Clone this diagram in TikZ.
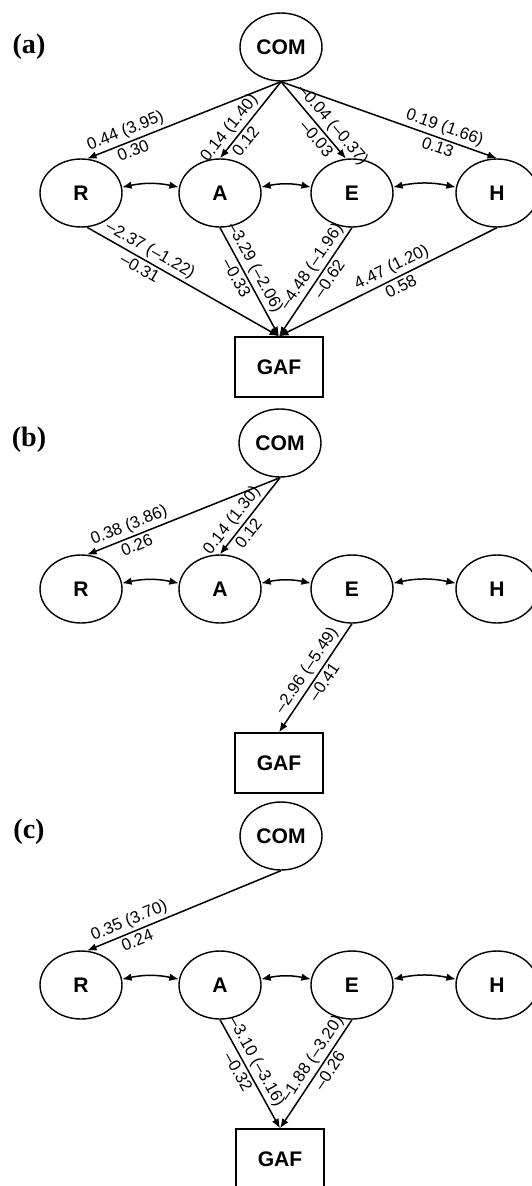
\documentclass[tikz,border=0pt]{standalone}
\usepackage{fontspec}
\setmainfont{Liberation Sans}
\newfontfamily\panelfont{Liberation Serif}
\usepackage{tikz}
\usetikzlibrary{shapes.geometric, arrows.meta}

\begin{document}
\begin{tikzpicture}[
    x=0.02cm, y=-0.02cm,
    latent/.style={ellipse, draw, line width=0.8pt, minimum width=1.64cm, minimum height=1.36cm, inner sep=0pt, font=\bfseries\fontsize{12}{14}\selectfont},
    observed/.style={rectangle, draw, line width=0.8pt, minimum width=1.76cm, minimum height=1.2cm, font=\bfseries\fontsize{12}{14}\selectfont},
    panel/.style={font=\panelfont\bfseries\fontsize{16}{18}\selectfont},
    effect/.style={-{Latex[length=1.9mm,width=1.5mm]}, line width=0.85pt},
    corr/.style={{Latex[length=1.9mm,width=1.5mm]}-{Latex[length=1.9mm,width=1.5mm]}, line width=0.85pt, bend left=12},
    coef/.style={sloped, inner sep=1.5pt, font=\fontsize{9.5}{11}\selectfont}
]
\useasboundingbox (0,0) rectangle (531,1186);

% Panel (a)
\node[panel] (labela) at (29,47) {(a)};
\node[latent] (coma) at (281,47) {COM};
\node[latent] (ra) at (81,193) {R};
\node[latent] (aa) at (220,193) {A};
\node[latent] (ea) at (352,193) {E};
\node[latent] (ha) at (497,193) {H};
\node[observed] (gafa) at (279,367) {GAF};

\draw[effect] (coma.south) -- (ra.80) node[coef, above, pos=0.78] {0.44 (3.95)} node[coef, below, pos=0.78] {0.30};
\draw[effect] (coma.south) -- (aa.north) node[coef, above, pos=0.7] {0.14 (1.40)} node[coef, below, pos=0.7] {0.12};
\draw[effect] (coma.south) -- (ea.100) node[coef, above, pos=0.66] {–0.04 (–0.37)} node[coef, below, pos=0.66] {–0.03};
\draw[effect] (coma.south) -- (ha.north) node[coef, above, pos=0.74] {0.19 (1.66)} node[coef, below, pos=0.74] {0.13};
\draw[corr] (ra.8) to (aa.172);
\draw[corr] (aa.8) to (ea.172);
\draw[corr] (ea.8) to (ha.172);
\draw[effect] (ra.-80) -- (gafa.north) node[coef, above, pos=0.3] {–2.37 (–1.22)} node[coef, below, pos=0.3] {–0.31};
\draw[effect] (aa.south) -- (gafa.north) node[coef, above, pos=0.42] {–3.29 (–2.06)} node[coef, below, pos=0.42] {–0.33};
\draw[effect] (ea.south) -- (gafa.north) node[coef, above, pos=0.42] {–4.48 (–1.96)} node[coef, below, pos=0.42] {–0.62};
\draw[effect] (ha.south) -- (gafa.north) node[coef, above, pos=0.46] {4.47 (1.20)} node[coef, below, pos=0.46] {0.58};

% Panel (b)
\node[panel] (labelb) at (29,440) {(b)};
\node[latent] (comb) at (280,443) {COM};
\node[latent] (rb) at (81,589) {R};
\node[latent] (ab) at (220,589) {A};
\node[latent] (eb) at (352,589) {E};
\node[latent] (hb) at (497,589) {H};
\node[observed] (gafb) at (279,763) {GAF};

\draw[effect] (comb.south) -- (rb.80) node[coef, above, pos=0.76] {0.38 (3.86)} node[coef, below, pos=0.76] {0.26};
\draw[effect] (comb.south) -- (ab.north) node[coef, above, pos=0.65] {0.14 (1.30)} node[coef, below, pos=0.65] {0.12};
\draw[corr] (rb.8) to (ab.172);
\draw[corr] (ab.8) to (eb.172);
\draw[corr] (eb.8) to (hb.172);
\draw[effect] (eb.south) -- (gafb.north) node[coef, above, pos=0.49] {–2.96 (–5.49)} node[coef, below, pos=0.49] {–0.41};

% Panel (c)
\node[panel] (labelc) at (29,832) {(c)};
\node[latent] (comc) at (281,836) {COM};
\node[latent] (rc) at (81,985) {R};
\node[latent] (ac) at (220,985) {A};
\node[latent] (ec) at (352,985) {E};
\node[latent] (hc) at (497,985) {H};
\node[observed] (gafc) at (280,1159) {GAF};

\draw[effect] (comc.south) -- (rc.80) node[coef, above, pos=0.76] {0.35 (3.70)} node[coef, below, pos=0.76] {0.24};
\draw[corr] (rc.8) to (ac.172);
\draw[corr] (ac.8) to (ec.172);
\draw[corr] (ec.8) to (hc.172);
\draw[effect] (ac.south) -- (gafc.north) node[coef, above, pos=0.44] {–3.10 (–3.16)} node[coef, below, pos=0.44] {–0.32};
\draw[effect] (ec.south) -- (gafc.north) node[coef, above, pos=0.42] {–1.88 (–3.20)} node[coef, below, pos=0.42] {–0.26};

\end{tikzpicture}
\end{document}
